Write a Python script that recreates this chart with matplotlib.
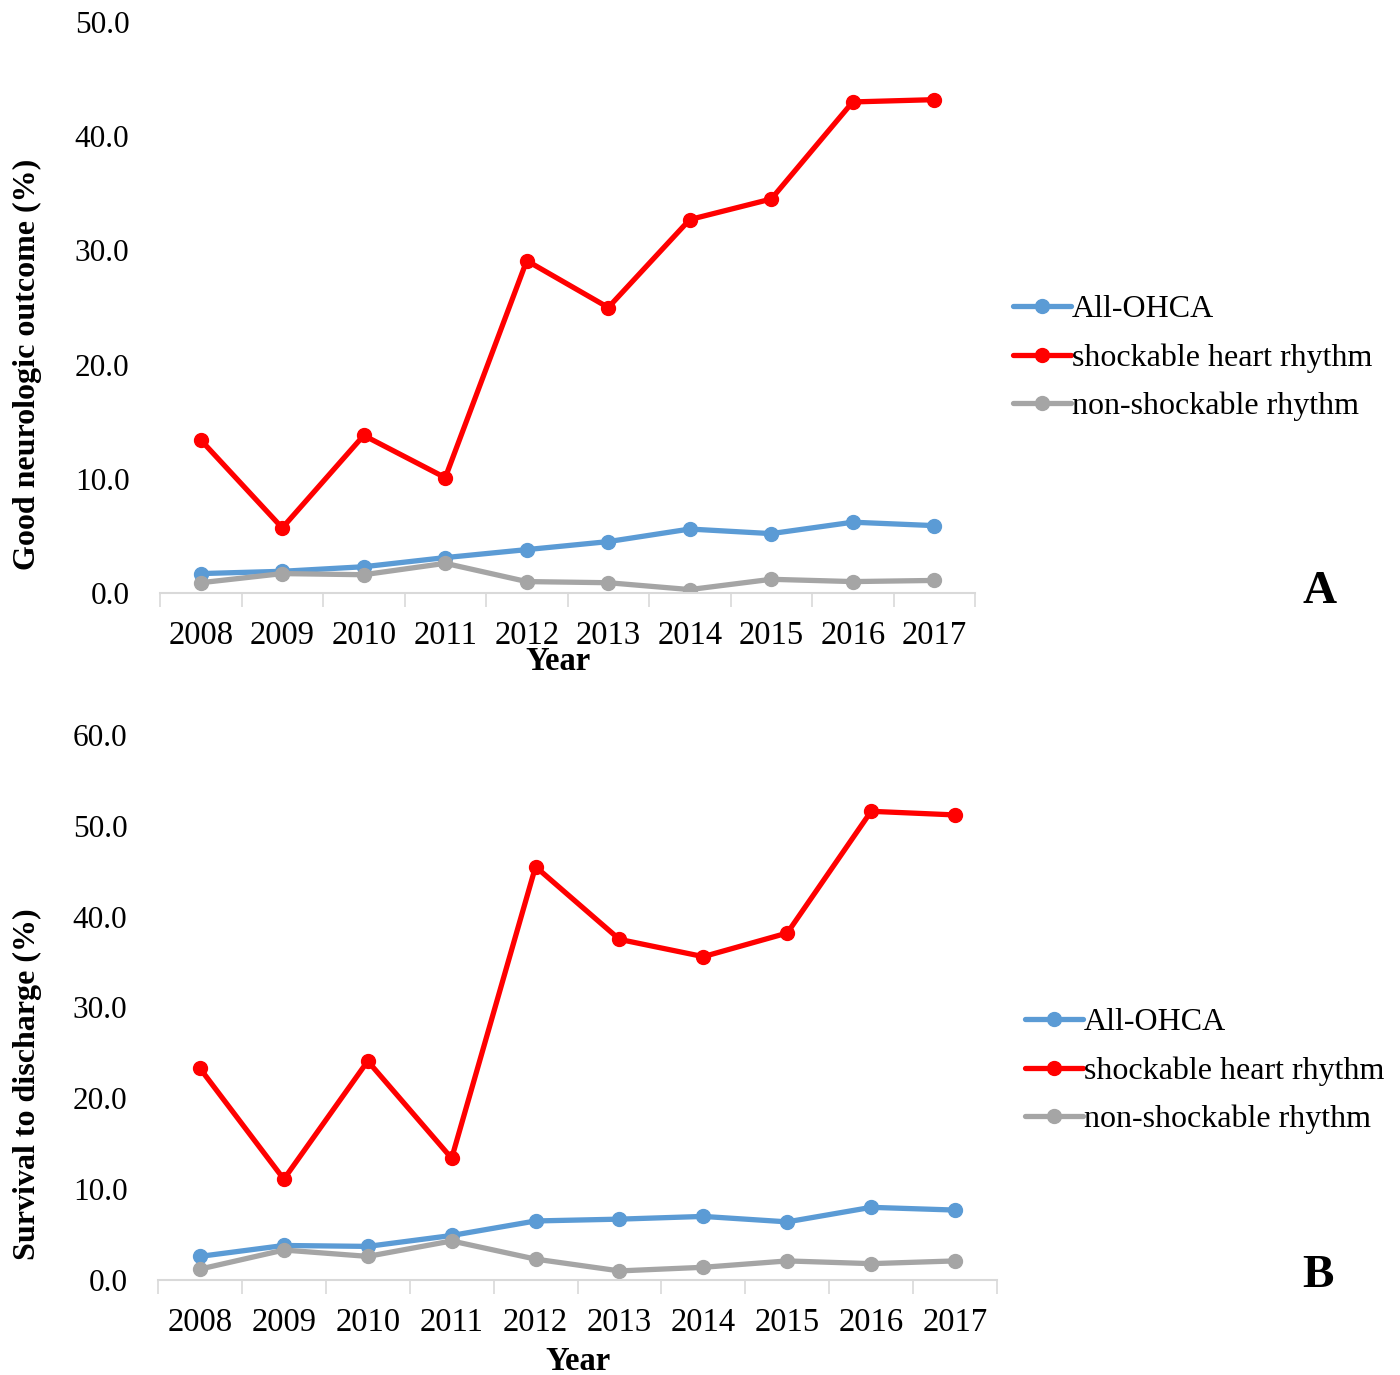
import numpy as np
import matplotlib
matplotlib.use('Agg')
import matplotlib.pyplot as plt

plt.rcParams['font.family'] = ['Liberation Serif', 'DejaVu Serif']

# Data
years = ['2008', '2009', '2010', '2011', '2012', '2013', '2014', '2015', '2016', '2017']

neuro_all = [1.7, 1.9, 2.3, 3.1, 3.8, 4.5, 5.6, 5.2, 6.2, 5.9]
neuro_shock = [13.4, 5.7, 13.8, 10.1, 29.1, 25.0, 32.7, 34.5, 43.0, 43.2]
neuro_nonshock = [0.9, 1.7, 1.6, 2.6, 1.0, 0.9, 0.3, 1.2, 1.0, 1.1]

surv_all = [2.6, 3.8, 3.7, 4.9, 6.5, 6.7, 7.0, 6.4, 8.0, 7.7]
surv_shock = [23.3, 11.1, 24.1, 13.4, 45.5, 37.5, 35.6, 38.2, 51.6, 51.2]
surv_nonshock = [1.2, 3.3, 2.6, 4.3, 2.3, 1.0, 1.4, 2.1, 1.8, 2.1]

series_names = ['All-OHCA', 'shockable heart rhythm', 'non-shockable rhythm']
colors = ['#5B9BD5', '#FF0000', '#A5A5A5']

W, H = 1400, 1375
fig = plt.figure(figsize=(W / 100, H / 100), dpi=100)


def px_axes(l, t, r, b):
    return fig.add_axes([l / W, 1 - b / H, (r - l) / W, (b - t) / H])


def draw_panel(ax, series, ymax, ylabel, ylab_xy, year_xy, letter_xy, legend_xy):
    x = np.arange(len(years))
    handles = []
    for vals, name, c in zip(series, series_names, colors):
        h, = ax.plot(x, vals, color=c, lw=3.8, marker='o', markersize=10,
                     label=name, solid_capstyle='round')
        handles.append(h)
    ax.set_xlim(-0.5, len(years) - 0.5)
    ax.set_ylim(0, ymax)
    ax.set_yticks(np.arange(0, ymax + 0.1, 10))
    ax.set_yticklabels(['%.1f' % v for v in np.arange(0, ymax + 0.1, 10)])
    ax.set_xticks(x)
    ax.set_xticklabels(years)
    ax.set_xticks(np.arange(-0.5, len(years)), minor=True)
    ax.tick_params(axis='x', which='major', length=0, labelsize=23.5, pad=20)
    ax.tick_params(axis='x', which='minor', length=10, width=1.2, color='#D9D9D9')
    ax.tick_params(axis='y', length=0, labelsize=22.5, pad=22)
    for s in ['top', 'right', 'left']:
        ax.spines[s].set_visible(False)
    ax.spines['bottom'].set_color('#D9D9D9')
    ax.spines['bottom'].set_linewidth(1.5)
    ax.patch.set_alpha(0)

    fig.text(ylab_xy[0] / W, 1 - ylab_xy[1] / H, ylabel, rotation=90,
             ha='center', va='center', fontsize=23, fontweight='bold')
    fig.text(year_xy[0] / W, 1 - year_xy[1] / H, 'Year',
             ha='center', va='center', fontsize=23.5, fontweight='bold')
    fig.text(letter_xy[0] / W, 1 - letter_xy[1] / H, letter_xy[2],
             ha='center', va='center', fontsize=34, fontweight='bold')
    fig.legend(handles=handles, loc='center left',
               bbox_to_anchor=(legend_xy[0] / W, 1 - legend_xy[1] / H),
               frameon=False, fontsize=23, handlelength=1.8, handletextpad=0.05,
               labelspacing=0.6, borderaxespad=0, borderpad=0)


ax1 = px_axes(160, 22, 975, 593)
draw_panel(ax1, [neuro_all, neuro_shock, neuro_nonshock], 50,
           'Good neurologic outcome (%)', (27, 364), (558, 662),
           (1320, 592, 'A'), (1013, 358))

ax2 = px_axes(158, 735, 997, 1280)
draw_panel(ax2, [surv_all, surv_shock, surv_nonshock], 60,
           'Survival to discharge (%)', (27, 1084), (578, 1362),
           (1318, 1276, 'B'), (1025, 1071))

fig.savefig('out.png', dpi=100)
